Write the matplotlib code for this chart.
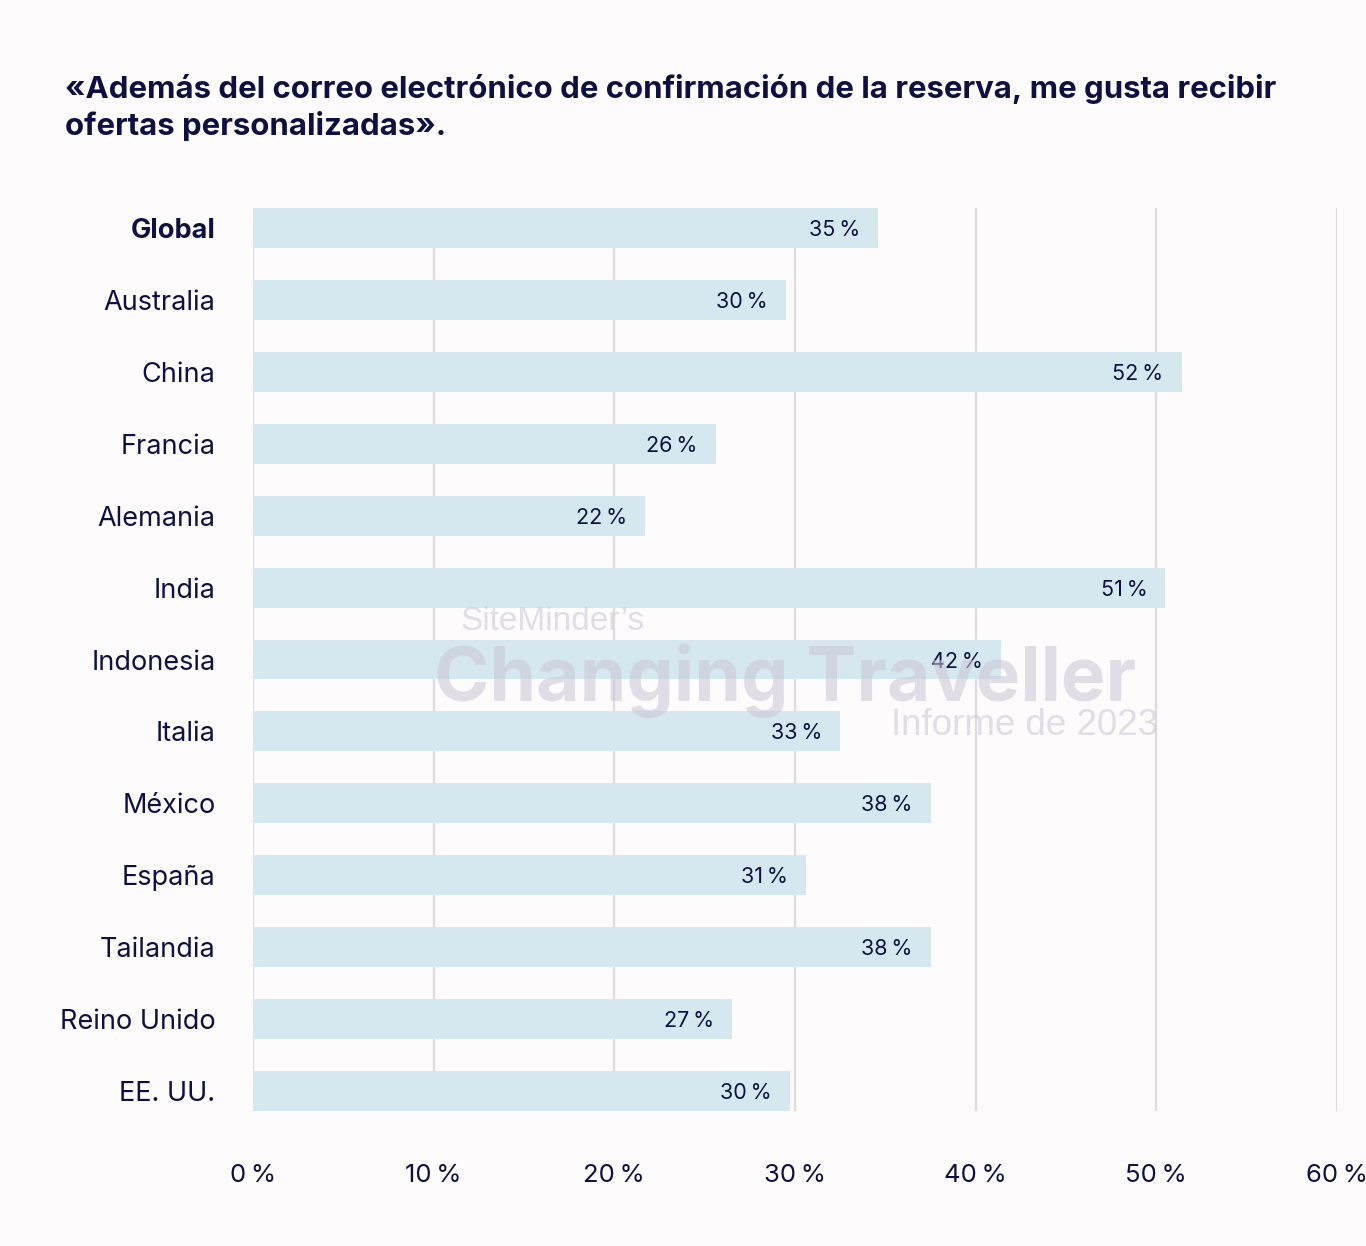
import matplotlib.pyplot as plt
import matplotlib.ticker as tck

# datos
paises = ['Global', 'Australia', 'China', 'Francia', 'Alemania', 'India', 'Indonesia',
          'Italia', 'México', 'España', 'Tailandia', 'Reino Unido', 'EE. UU.']
valores = [34.6, 29.5, 51.4, 25.6, 21.7, 50.5, 41.4, 32.5, 37.5, 30.6, 37.5, 26.5, 29.7]
etiquetas = [35, 30, 52, 26, 22, 51, 42, 33, 38, 31, 38, 27, 30]
ticks_x = [0, 10, 20, 30, 40, 50, 60]

fondo = '#fdfbfc'
azul = '#d6e8ef'
texto = '#0e1140'
grid = '#dcdcdf'

plt.rcParams['font.family'] = ['Inter', 'DejaVu Sans']

fig = plt.figure(figsize=(13.66, 12.46), dpi=100, facecolor=fondo)
ax = fig.add_axes([0.1852, 0.1083, 0.7936, 0.7248])
ax.set_facecolor(fondo)

y = list(range(len(paises)))
ax.barh(y, valores, height=0.555, color=azul, zorder=2)

for i, (v, e) in enumerate(zip(valores, etiquetas)):
    ax.text(v - 1.0, i, f'{e}\u2009%', ha='right', va='center_baseline', fontsize=15.5,
            color=texto, zorder=4)

ax.set_xlim(0, 60)
ax.set_ylim(len(paises) - 1 + 0.2775, -0.2775)
ax.set_xticks(ticks_x)
ax.set_xticklabels([f'{t}\u2009%' for t in ticks_x])
ax.set_yticks(y)
ax.set_yticklabels(paises)
ax.get_yticklabels()[0].set_fontweight('bold')

ax.tick_params(axis='x', length=0, pad=38, labelsize=18.5, labelcolor=texto)
ax.tick_params(axis='y', length=0, pad=27, labelsize=19.5, labelcolor=texto)
ax.xaxis.grid(True, color=grid, linewidth=1.6, zorder=0)
ax.set_axisbelow(True)
for s in ax.spines.values():
    s.set_visible(False)

fig.text(0.0476, 0.887, '«Además del correo electrónico de confirmación de la reserva, me gusta recibir\n'
         'ofertas personalizadas».', ha='left', va='bottom', fontsize=22.4,
         fontweight='bold', color=texto, linespacing=1.3)

# marca de agua
wm = '#c9c6d6'
fig.text(0.337, 0.494, 'SiteMinder’s', fontsize=24, color=wm, alpha=0.55, zorder=5,
         family=['Liberation Sans Narrow', 'Liberation Sans'])
fig.text(0.318, 0.437, 'Changing Traveller', fontsize=54, fontweight='bold',
         color=wm, alpha=0.55, zorder=5)
fig.text(0.652, 0.410, 'Informe de 2023', fontsize=26.5, color=wm, alpha=0.55, zorder=5,
         family=['Liberation Sans Narrow', 'Liberation Sans'])

fig.savefig('out.png', dpi=100, facecolor=fondo)
